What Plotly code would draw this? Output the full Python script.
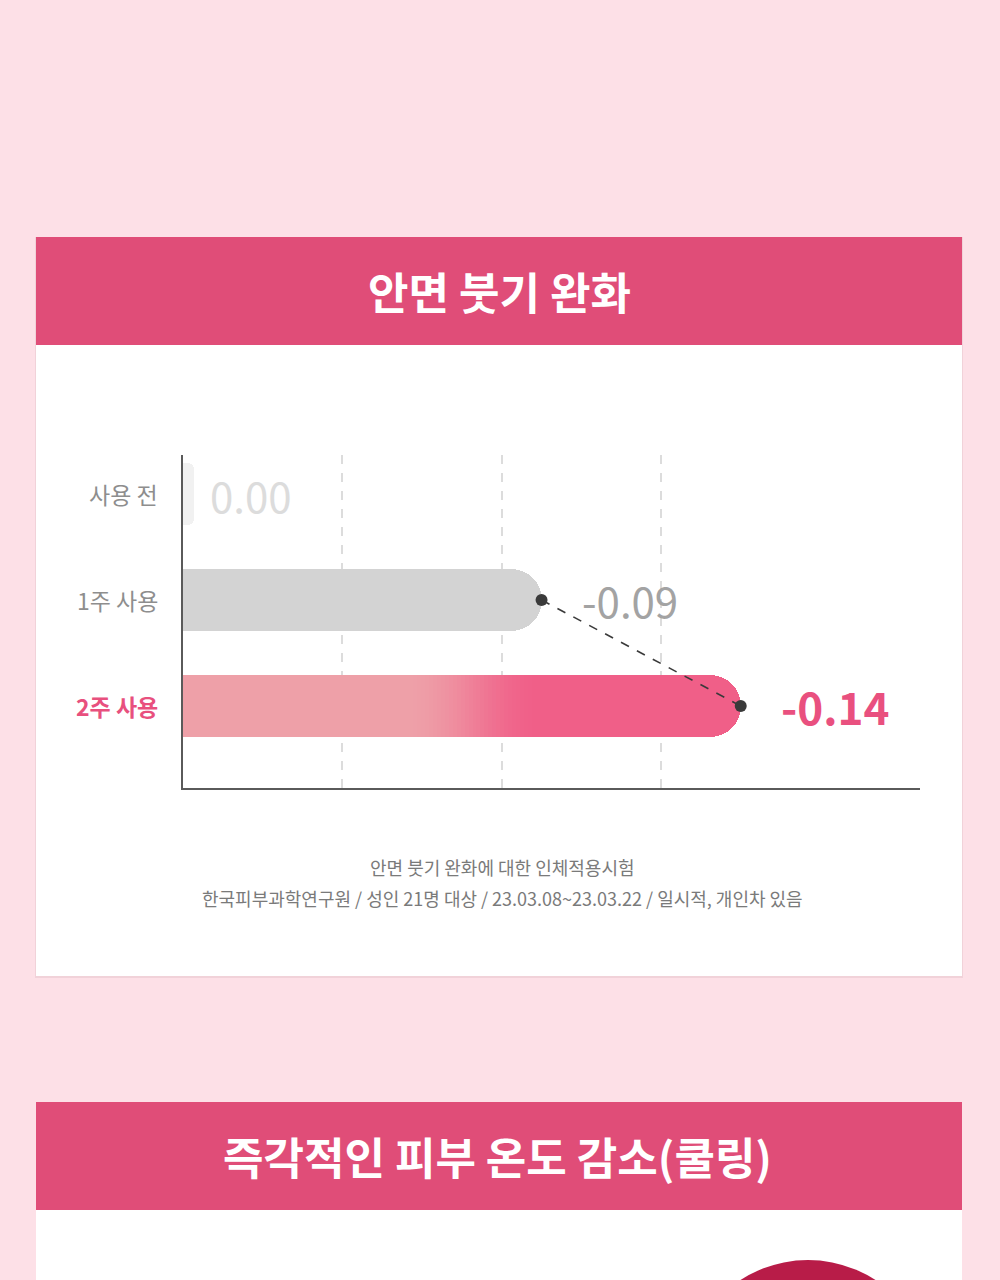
import plotly.graph_objects as go

# ---------------- data ----------------
categories = ["사용 전", "1주 사용", "2주 사용"]
values = [0.00, -0.09, -0.14]
value_labels = ["0.00", "-0.09", "-0.14"]
grid_ticks = [0.04, 0.08, 0.12]
title_1 = "안면 붓기 완화"
title_2 = "즉각적인 피부 온도 감소(쿨링)"
footnote_lines = [
    "안면 붓기 완화에 대한 인체적용시험",
    "한국피부과학연구원 / 성인 21명 대상 / 23.03.08~23.03.22 / 일시적, 개인차 있음",
]

# ---------------- style ----------------
W, H = 1000, 1280
FONT = "Noto Sans CJK KR"
BG = "#fde0e7"
HEADER = "#e04d78"
PINK = "#f05f88"
PINK_LIGHT = (238, 160, 168)
PINK_DARK = (240, 95, 136)
GRAY_BAR = "#d3d3d3"
STUB_MIN = 0.0028
BAR_W = 0.585


def px(x):
    return x / W


def py(y):
    return 1 - y / H


mags = [abs(v) for v in values]

fig = go.Figure()

# stub bar for "사용 전"
fig.add_trace(go.Bar(
    y=[categories[0]], x=[max(mags[0], STUB_MIN)], orientation="h",
    width=BAR_W, marker=dict(color="#f1f1f1", cornerradius=6, line=dict(width=0)),
    hoverinfo="skip", showlegend=False,
))
# 1주 bar
fig.add_trace(go.Bar(
    y=[categories[1]], x=[mags[1]], orientation="h",
    width=BAR_W, marker=dict(color=GRAY_BAR, cornerradius=31, line=dict(width=0)),
    hoverinfo="skip", showlegend=False,
))
# 2주 bar (solid end colour)
fig.add_trace(go.Bar(
    y=[categories[2]], x=[mags[2]], orientation="h",
    width=BAR_W, marker=dict(color=PINK, cornerradius=31, line=dict(width=0)),
    hoverinfo="skip", showlegend=False,
))

# gradient overlay on the 2주 bar (fractions of its own value)
N = 90
g_end = 0.64
seg = mags[2] * g_end / N
bases, widths, cols = [], [], []
for i in range(N):
    f = (i + 0.5) / N * g_end
    if f < 0.40:
        t = 0.0
    else:
        t = min(1.0, (f - 0.40) / (g_end - 0.40))
        t = t * t * (3 - 2 * t)
    c = [round(PINK_LIGHT[k] + (PINK_DARK[k] - PINK_LIGHT[k]) * t) for k in range(3)]
    bases.append(i * seg)
    widths.append(seg * 1.5)
    cols.append("rgb(%d,%d,%d)" % tuple(c))
fig.add_trace(go.Bar(
    y=[categories[2]] * N, x=widths, base=bases, orientation="h",
    width=BAR_W, marker=dict(color=cols, line=dict(width=0)),
    hoverinfo="skip", showlegend=False,
))

# dashed connector and dots
fig.add_trace(go.Scatter(
    x=mags[1:], y=categories[1:], mode="lines+markers",
    line=dict(color="#3a3a3a", width=1.6, dash="dash"),
    marker=dict(color="#3a3a3a", size=12),
    hoverinfo="skip", showlegend=False,
))

annotations = []
# y labels
label_styles = [
    dict(color="#8e8e8e", bold=False),
    dict(color="#8e8e8e", bold=False),
    dict(color="#e8507e", bold=True),
]
for cat, st in zip(categories, label_styles):
    annotations.append(dict(
        x=px(160), xref="paper", y=cat, yref="y", xanchor="right", yanchor="middle",
        text=("<b>%s</b>" % cat) if st["bold"] else cat, showarrow=False,
        font=dict(family=FONT, size=23, color=st["color"]),
    ))

# value labels
val_styles = [
    dict(color="#dcdcdc", size=42, bold=False, shift=14),
    dict(color="#a3a3a3", size=42, bold=False, shift=38),
    dict(color="#e9507f", size=44, bold=True, shift=38),
]
for i, (cat, lab, st) in enumerate(zip(categories, value_labels, val_styles)):
    xv = max(mags[i], STUB_MIN) if i == 0 else mags[i]
    annotations.append(dict(
        x=xv, xref="x", y=cat, yref="y", xanchor="left", yanchor="middle",
        xshift=st["shift"], text=("<b>%s</b>" % lab) if st["bold"] else lab,
        showarrow=False, font=dict(family=FONT, size=st["size"], color=st["color"]),
    ))

# titles
annotations.append(dict(
    x=px(499), y=py(291), xref="paper", yref="paper", xanchor="center", yanchor="middle",
    text="<b>%s</b>" % title_1, showarrow=False,
    font=dict(family=FONT, size=44, color="white"),
))
annotations.append(dict(
    x=px(497), y=py(1156), xref="paper", yref="paper", xanchor="center", yanchor="middle",
    text="<b>%s</b>" % title_2, showarrow=False,
    font=dict(family=FONT, size=44, color="white"),
))
# footnotes
for line, yy in zip(footnote_lines, [867, 898]):
    annotations.append(dict(
        x=px(502), y=py(yy), xref="paper", yref="paper", xanchor="center", yanchor="middle",
        text=line, showarrow=False,
        font=dict(family=FONT, size=18, color="#7a7a7a"),
    ))

shapes = [
    # card 1 shadow + body + header
    dict(type="rect", xref="paper", yref="paper", x0=px(35), x1=px(963), y0=py(978), y1=py(237),
         fillcolor="rgba(200,160,168,0.22)", line=dict(width=0), layer="below"),
    dict(type="rect", xref="paper", yref="paper", x0=px(36), x1=px(962), y0=py(976), y1=py(237),
         fillcolor="white", line=dict(width=0), layer="below"),
    dict(type="rect", xref="paper", yref="paper", x0=px(36), x1=px(962), y0=py(345), y1=py(237),
         fillcolor=HEADER, line=dict(width=0), layer="below"),
    # card 2
    dict(type="rect", xref="paper", yref="paper", x0=px(36), x1=px(962), y0=py(1300), y1=py(1102),
         fillcolor="white", line=dict(width=0), layer="below"),
    dict(type="rect", xref="paper", yref="paper", x0=px(36), x1=px(962), y0=py(1210), y1=py(1102),
         fillcolor=HEADER, line=dict(width=0), layer="below"),
    dict(type="circle", xref="paper", yref="paper", x0=px(684), x1=px(932), y0=py(1508), y1=py(1260),
         fillcolor="#b81c48", line=dict(width=0), layer="below"),
]

fig.update_layout(
    width=W, height=H,
    margin=dict(l=0, r=0, t=0, b=0),
    paper_bgcolor=BG, plot_bgcolor="rgba(0,0,0,0)",
    barmode="overlay", bargap=0,
    showlegend=False,
    annotations=annotations, shapes=shapes,
    font=dict(family=FONT),
    xaxis=dict(
        domain=[px(183), px(920)], range=[0, 0.185], fixedrange=True,
        tickvals=grid_ticks, showticklabels=False, ticks="",
        showgrid=True, gridcolor="#dcdcdc", gridwidth=1.5, griddash="dash",
        zeroline=False, showline=True, linecolor="#5a5a5a", linewidth=2,
    ),
    yaxis=dict(
        domain=[py(788), py(455)], type="category", categoryorder="array",
        categoryarray=categories, range=[2.774, -0.368], autorange=False,
        showticklabels=False, ticks="", showgrid=False, zeroline=False,
        showline=True, linecolor="#5a5a5a", linewidth=2, fixedrange=True,
    ),
)

fig.write_html("out.html")
